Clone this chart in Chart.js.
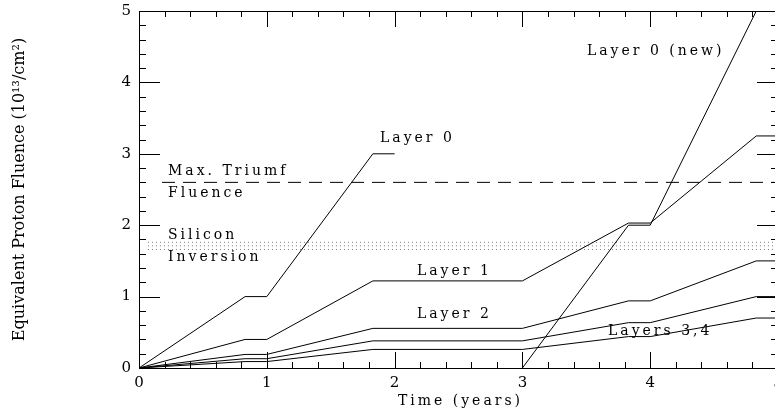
<!DOCTYPE html>
<html>
<head>
<meta charset="utf-8">
<script src="https://cdn.jsdelivr.net/npm/chart.js@4.4.1/dist/chart.umd.min.js"></script>
<style>
  html, body { margin: 0; padding: 0; background: #fff; overflow: hidden; }
  #wrap { width: 785px; height: 415px; }
</style>
</head>
<body>
<div id="wrap"><canvas id="fluence-chart"></canvas></div>
<script>
// time axis (years) shared by layers 1-4
let years = [0, 0.83, 1, 1.83, 3, 3.83, 4, 4.83, 5];
let layer1 = [0, 0.4, 0.4, 1.22, 1.22, 2.03, 2.03, 3.25, 3.25];
let layer2 = [0, 0.19, 0.19, 0.555, 0.555, 0.94, 0.94, 1.5, 1.5];
let layer3 = [0, 0.13, 0.13, 0.38, 0.38, 0.635, 0.635, 1.0, 1.0];
let layer4 = [0, 0.09, 0.09, 0.26, 0.26, 0.44, 0.44, 0.7, 0.7];
// old layer 0 (replaced after 2 years) and the new one (installed at 3 years)
let layer0_years = [0, 0.83, 1, 1.83, 2];
let layer0 = [0, 1, 1, 3, 3];
let layer0new_years = [3, 3.83, 4, 4.83, 5];
let layer0new = [0, 2, 2, 5, 5];
// reference levels
let triumf_max = 2.6;
let inversion_levels = [1.66, 1.71, 1.76];
// tick labels
let x_ticks = ['0', '1', '2', '3', '4', '5'];
let y_ticks = ['0', '1', '2', '3', '4', '5'];

const FONT = '"DejaVu Serif", serif';

function pts(xs, ys) {
    return xs.map((x, i) => ({ x: x, y: ys[i] }));
}
function flat(y, x0, x1) {
    return [{ x: x0, y: y }, { x: x1, y: y }];
}

let line_style = { borderColor: '#000', borderWidth: 1, pointRadius: 0, tension: 0, fill: false, showLine: true };

let datasets = [
    Object.assign({ label: 'Layer 0', data: pts(layer0_years, layer0) }, line_style),
    Object.assign({ label: 'Layer 0 (new)', data: pts(layer0new_years, layer0new) }, line_style),
    Object.assign({ label: 'Layer 1', data: pts(years, layer1) }, line_style),
    Object.assign({ label: 'Layer 2', data: pts(years, layer2) }, line_style),
    Object.assign({ label: 'Layer 3', data: pts(years, layer3) }, line_style),
    Object.assign({ label: 'Layer 4', data: pts(years, layer4) }, line_style),
    Object.assign({}, line_style, { label: 'Max. Triumf Fluence', data: flat(triumf_max, 0.18, 5), borderDash: [13, 8] }),
];
inversion_levels.forEach((lv) => {
    datasets.push(Object.assign({}, line_style, {
        label: 'Silicon Inversion', data: flat(lv, 0.07, 5), borderColor: '#777', borderDash: [1, 3]
    }));
});

// text notes inside the plot, anchored in data units
let notes = [
    ['Layer 0 (new)', 3.505, 4.43],
    ['Layer 0', 1.886, 3.22],
    ['Max. Triumf', 0.227, 2.75],
    ['Fluence', 0.227, 2.45],
    ['Silicon', 0.227, 1.86],
    ['Inversion', 0.227, 1.555],
    ['Layer 1', 2.175, 1.35],
    ['Layer 2', 2.175, 0.756],
    ['Layers 3,4', 3.67, 0.51],
];

// frame, inward ticks on all four sides, labels and titles
const frame_plugin = {
    id: 'frame',
    afterDraw(chart) {
        let ctx = chart.ctx;
        let xs = chart.scales.x, ys = chart.scales.y;
        let a = chart.chartArea;
        ctx.save();
        ctx.strokeStyle = '#000';
        ctx.lineWidth = 1;
        ctx.strokeRect(Math.round(a.left) + 0.5, Math.round(a.top) + 0.5, Math.round(a.right - a.left), Math.round(a.bottom - a.top));
        ctx.beginPath();
        for (let v = 0; v <= 5.001; v += 0.2) {
            let major = Math.abs(v - Math.round(v)) < 0.01;
            let px = Math.round(xs.getPixelForValue(v)) + 0.5;
            let lx = major ? 16 : 6;
            ctx.moveTo(px, a.bottom); ctx.lineTo(px, a.bottom - lx);
            ctx.moveTo(px, a.top); ctx.lineTo(px, a.top + lx);
            let py = Math.round(ys.getPixelForValue(v)) + 0.5;
            let ly = major ? 21 : 7;
            ctx.moveTo(a.left, py); ctx.lineTo(a.left + ly, py);
            ctx.moveTo(a.right, py); ctx.lineTo(a.right - ly, py);
        }
        ctx.stroke();

        ctx.fillStyle = '#000';
        ctx.font = '15px ' + FONT;
        ctx.textBaseline = 'middle';
        ctx.textAlign = 'center';
        x_ticks.forEach((t) => ctx.fillText(t, xs.getPixelForValue(Number(t)), a.bottom + 15));
        ctx.textAlign = 'right';
        y_ticks.forEach((t) => ctx.fillText(t, a.left - 8, ys.getPixelForValue(Number(t))));

        ctx.font = '14px ' + FONT;
        ctx.letterSpacing = '3px';
        ctx.textAlign = 'center';
        ctx.fillText('Time (years)', (a.left + a.right) / 2 + 2, a.bottom + 33);

        ctx.textAlign = 'left';
        notes.forEach((n) => ctx.fillText(n[0], xs.getPixelForValue(n[1]), ys.getPixelForValue(n[2])));

        ctx.letterSpacing = '0px';
        ctx.font = '16px ' + FONT;
        ctx.translate(20, (a.top + a.bottom) / 2);
        ctx.rotate(-Math.PI / 2);
        ctx.textAlign = 'center';
        ctx.fillText('Equivalent Proton Fluence (10\u00B9\u00B3/cm\u00B2)', 0, 0);
        ctx.restore();
    }
};

let chart = new Chart(document.getElementById('fluence-chart'), {
    type: 'scatter',
    data: { datasets: datasets },
    options: {
        responsive: true,
        maintainAspectRatio: false,
        animation: false,
        layout: { padding: { left: 139, top: 11, right: 7, bottom: 47 } },
        scales: {
            x: { type: 'linear', min: 0, max: 5, display: false },
            y: { type: 'linear', min: 0, max: 5, display: false },
        },
        plugins: { legend: { display: false }, tooltip: { enabled: false } },
    },
    plugins: [frame_plugin],
});
</script>
</body>
</html>
